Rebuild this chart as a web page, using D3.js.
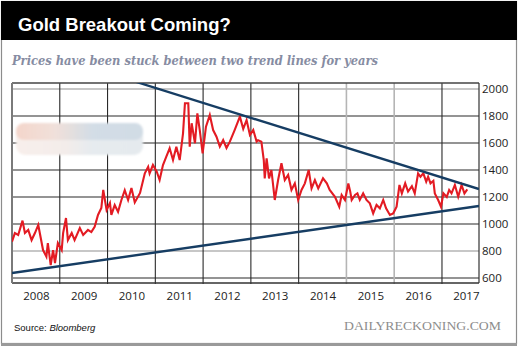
<!DOCTYPE html>
<html><head><meta charset="utf-8">
<script src="https://cdn.jsdelivr.net/npm/d3@7"></script>
<style>body{margin:0;background:#fff;overflow:hidden}</style>
</head><body>
<script>
// ---------- DATA ----------
const yearLabels = [2008, 2009, 2010, 2011, 2012, 2013, 2014, 2015, 2016, 2017];
const yearBoundaries = [2009, 2010, 2011, 2012, 2013, 2014, 2015, 2016, 2017];
const priceTicks = [600, 800, 1000, 1200, 1400, 1600, 1800, 2000];

const goldDates = [
  2008.00, 2008.06, 2008.13, 2008.22, 2008.27, 2008.34, 2008.41, 2008.48, 2008.55, 2008.65,
  2008.72, 2008.75, 2008.81, 2008.86, 2008.90, 2008.96, 2009.04, 2009.07, 2009.13, 2009.17,
  2009.25, 2009.31, 2009.42, 2009.49, 2009.59, 2009.66, 2009.73, 2009.80, 2009.87, 2009.91,
  2009.98, 2010.05, 2010.08, 2010.15, 2010.22, 2010.29, 2010.36, 2010.43, 2010.50, 2010.57,
  2010.68, 2010.78, 2010.85, 2010.88, 2010.95, 2011.03, 2011.09, 2011.16, 2011.23, 2011.30,
  2011.37, 2011.44, 2011.51, 2011.58, 2011.62, 2011.69, 2011.72, 2011.76, 2011.83, 2011.88,
  2011.93, 2011.99, 2012.06, 2012.14, 2012.21, 2012.28, 2012.35, 2012.42, 2012.49, 2012.56,
  2012.66, 2012.77, 2012.84, 2012.91, 2012.98, 2013.05, 2013.12, 2013.15, 2013.22, 2013.27,
  2013.29, 2013.33, 2013.38, 2013.43, 2013.50, 2013.57, 2013.64, 2013.71, 2013.78, 2013.85,
  2013.92, 2013.99, 2014.06, 2014.13, 2014.21, 2014.27, 2014.34, 2014.41, 2014.51, 2014.59,
  2014.65, 2014.76, 2014.85, 2014.90, 2014.97, 2015.04, 2015.08, 2015.11, 2015.18, 2015.23,
  2015.28, 2015.35, 2015.42, 2015.49, 2015.56, 2015.63, 2015.70, 2015.77, 2015.83, 2015.91,
  2015.98, 2016.05, 2016.11, 2016.16, 2016.23, 2016.29, 2016.37, 2016.43, 2016.50, 2016.55,
  2016.61, 2016.67, 2016.71, 2016.76, 2016.82, 2016.85, 2016.92, 2016.98, 2017.03, 2017.10,
  2017.15, 2017.20, 2017.27, 2017.34, 2017.41, 2017.47, 2017.53
];
const goldPrices = [
   869,  933,  919, 1025,  933,  956,  881,  933,  993,  807,
   758,  859,  696,  807,  711,  859,  807,  933, 1044,  881,
   933,  881,  970,  919,  956,  940,  980, 1067, 1118, 1252,
  1104, 1156, 1067, 1140, 1090, 1178, 1250, 1178, 1267, 1160,
  1230, 1375, 1424, 1375, 1437, 1388, 1326, 1437, 1499, 1561,
  1474, 1573, 1474, 1672, 1894, 1894, 1573, 1746, 1598, 1820,
  1696, 1524, 1721, 1807, 1696, 1647, 1573, 1622, 1563, 1610,
  1696, 1795, 1705, 1770, 1660, 1696, 1610, 1620, 1610, 1474,
  1338, 1487, 1338, 1400, 1178, 1326, 1450, 1326, 1363, 1252,
  1301, 1178, 1252, 1301, 1400, 1264, 1326, 1264, 1338, 1301,
  1252, 1202, 1128, 1215, 1178, 1300, 1240, 1178, 1215, 1227,
  1178, 1227, 1178, 1153, 1079, 1141, 1116, 1178, 1116, 1067,
  1079, 1128, 1289, 1227, 1301, 1240, 1280, 1227, 1375, 1350,
  1375, 1314, 1350, 1301, 1320, 1227, 1178, 1128, 1227, 1200,
  1252, 1227, 1289, 1202, 1289, 1227, 1257
];

const upperTrendDates = [2010.60, 2017.775];
const upperTrendValues = [2052, 1259];
const lowerTrendDates = [2008.00, 2017.775];
const lowerTrendValues = [637, 1133];

// ---------- LAYOUT / STYLE ----------
const W = 518, H = 347;
const plot = {left: 12, right: 479, top: 83, bottom: 283};
const lightYears = new Set([2015, 2016]);
const lightPrices = new Set([2000, 800]);

const svg = d3.select("body").append("svg")
  .attr("width", W).attr("height", H)
  .style("display", "block");

// outer frame + shadow
svg.append("rect").attr("x", 0).attr("y", 0).attr("width", W).attr("height", H).attr("fill", "#fff");
svg.append("rect").attr("x", 1.5).attr("y", 1.5).attr("width", W - 3).attr("height", H - 5)
  .attr("fill", "none").attr("stroke", "#8c8c8c").attr("stroke-width", 1.2);
svg.append("rect").attr("x", 1).attr("y", H - 4).attr("width", W - 2).attr("height", 3).attr("fill", "#9a9a9a");

// title bar
svg.append("rect").attr("x", 1).attr("y", 1).attr("width", W - 2).attr("height", 39).attr("fill", "#000");
svg.append("text").attr("x", 18).attr("y", 31)
  .attr("fill", "#fff").attr("font-family", "Liberation Sans, Arial, sans-serif")
  .attr("font-weight", "bold").attr("font-size", 18.5)
  .text("Gold Breakout Coming?");

// subtitle
svg.append("text").attr("x", 12).attr("y", 65)
  .attr("fill", "#868ca2").attr("font-family", "DejaVu Serif, Liberation Serif, serif")
  .attr("font-weight", "bold").attr("font-style", "italic").attr("font-size", 13.5)
  .attr("textLength", 366).attr("lengthAdjust", "spacingAndGlyphs")
  .text("Prices have been stuck between two trend lines for years");

// scales
const x = d3.scaleLinear().domain([2008, 2017.775]).range([plot.left, plot.right]);
const y = d3.scaleLinear().domain([563, 2044.4]).range([plot.bottom, plot.top]);

const defs = svg.append("defs");
defs.append("clipPath").attr("id", "clip").append("rect")
  .attr("x", plot.left).attr("y", plot.top)
  .attr("width", plot.right - plot.left).attr("height", plot.bottom - plot.top);

// blurred legend patch
const gTop = defs.append("linearGradient").attr("id", "gTop");
[["0%", "#f4d6cb"], ["30%", "#f1e0da"], ["45%", "#e2dfdf"], ["60%", "#d3dde6"], ["100%", "#d1dce5"]]
  .forEach(([o, c]) => gTop.append("stop").attr("offset", o).attr("stop-color", c));
const gBot = defs.append("linearGradient").attr("id", "gBot");
[["0%", "#f8efeb"], ["40%", "#f3ecea"], ["60%", "#e6ebef"], ["100%", "#e5eaee"]]
  .forEach(([o, c]) => gBot.append("stop").attr("offset", o).attr("stop-color", c));
defs.append("filter").attr("id", "soft").append("feGaussianBlur").attr("stdDeviation", 1.0);

// gridlines
const grid = svg.append("g");
grid.selectAll("line.h").data(priceTicks).join("line")
  .attr("x1", plot.left).attr("x2", plot.right)
  .attr("y1", d => y(d)).attr("y2", d => y(d))
  .attr("stroke", d => lightPrices.has(d) ? "#b5b5b5" : "#2a2a2a")
  .attr("stroke-width", d => lightPrices.has(d) ? 1.6 : 1.1);
grid.selectAll("line.v").data(yearBoundaries).join("line")
  .attr("x1", d => x(d)).attr("x2", d => x(d))
  .attr("y1", plot.top).attr("y2", plot.bottom + 1)
  .attr("stroke", d => lightYears.has(d) ? "#b5b5b5" : "#2a2a2a")
  .attr("stroke-width", d => lightYears.has(d) ? 1.6 : 1.1);

// frame of plot
svg.append("line").attr("x1", plot.left).attr("x2", plot.right).attr("y1", plot.top).attr("y2", plot.top)
  .attr("stroke", "#444").attr("stroke-width", 1.4);
svg.append("line").attr("x1", plot.left).attr("x2", plot.right).attr("y1", plot.bottom).attr("y2", plot.bottom)
  .attr("stroke", "#333").attr("stroke-width", 1.4);
svg.append("line").attr("x1", plot.left).attr("x2", plot.left).attr("y1", plot.top).attr("y2", plot.bottom)
  .attr("stroke", "#7a7a7a").attr("stroke-width", 2);
svg.append("line").attr("x1", plot.right).attr("x2", plot.right).attr("y1", plot.top).attr("y2", plot.bottom)
  .attr("stroke", "#333").attr("stroke-width", 1.2);

// legend patch (obscured)
const lg = svg.append("g").attr("filter", "url(#soft)");
lg.append("rect").attr("x", 16).attr("y", 123).attr("width", 127).attr("height", 32).attr("rx", 9)
  .attr("fill", "url(#gBot)");
lg.append("rect").attr("x", 16).attr("y", 123).attr("width", 127).attr("height", 17).attr("rx", 8)
  .attr("fill", "url(#gTop)");

// trend lines and price
const pg = svg.append("g").attr("clip-path", "url(#clip)");
const line = d3.line().x(d => x(d[0])).y(d => y(d[1]));
pg.append("path").datum(d3.zip(goldDates, goldPrices))
  .attr("d", line).attr("fill", "none")
  .attr("stroke", "#e31b23").attr("stroke-width", 2.1).attr("stroke-linejoin", "miter");
pg.append("path").datum(d3.zip(upperTrendDates, upperTrendValues))
  .attr("d", line).attr("fill", "none").attr("stroke", "#163d63").attr("stroke-width", 2.4);
pg.append("path").datum(d3.zip(lowerTrendDates, lowerTrendValues))
  .attr("d", line).attr("fill", "none").attr("stroke", "#163d63").attr("stroke-width", 2.4);

// axes
const xAxis = d3.axisBottom(x).tickValues(yearLabels.map(d => d + 0.5))
  .tickFormat((d, i) => String(yearLabels[i])).tickSize(0).tickPadding(0);
const gx = svg.append("g").attr("transform", `translate(0,${plot.bottom + 9})`).call(xAxis);
gx.select(".domain").remove();
gx.selectAll("text").attr("font-family", "Open Sans, sans-serif").attr("font-size", 11.5)
  .attr("fill", "#222").attr("dy", "0.71em");

const yAxis = d3.axisRight(y).tickValues(priceTicks).tickFormat(d3.format("d")).tickSize(0).tickPadding(0);
const gy = svg.append("g").attr("transform", `translate(${plot.right + 3},0)`).call(yAxis);
gy.select(".domain").remove();
gy.selectAll("text").attr("font-family", "Open Sans, sans-serif").attr("font-size", 11.5).attr("fill", "#222");

// footer
const src = svg.append("text").attr("x", 14).attr("y", 331)
  .attr("font-family", "Liberation Sans, Arial, sans-serif").attr("font-size", 9.5).attr("fill", "#111");
src.append("tspan").text("Source: ");
src.append("tspan").attr("font-style", "italic").text("Bloomberg");

svg.append("text").attr("x", 344).attr("y", 330)
  .attr("font-family", "Liberation Serif, Times New Roman, serif").attr("font-size", 12.5)
  .attr("fill", "#8d8d8d").attr("textLength", 157).attr("lengthAdjust", "spacingAndGlyphs")
  .text("DAILYRECKONING.COM");
</script>
</body></html>
